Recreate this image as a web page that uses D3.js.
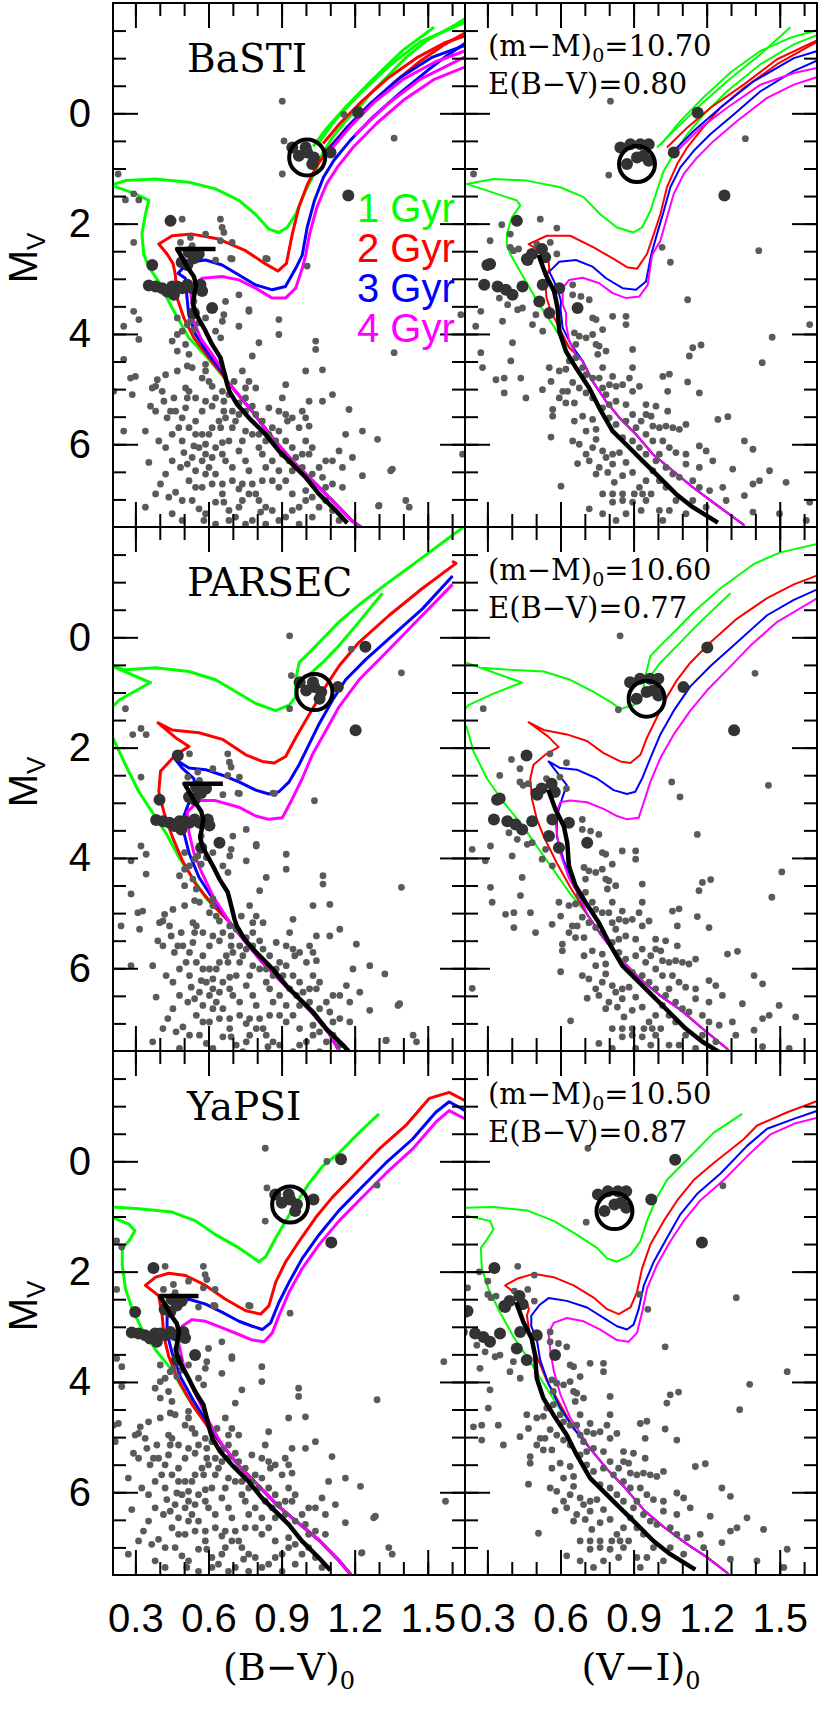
<!DOCTYPE html>
<html><head><meta charset="utf-8">
<script src="https://cdn.jsdelivr.net/npm/d3@7"></script>
<style>html,body{margin:0;padding:0;background:#fff;} svg{display:block;}</style>
</head><body>
<svg id="chart" width="830" height="1714"></svg>
<script>
// ---------------- DATA ----------------
const models = ["BaSTI", "PARSEC", "YaPSI"];
const distMod = [10.70, 10.60, 10.50];
const ebv = [0.80, 0.77, 0.87];
const RV = 3.1, kVI = 1.32; // A_V/E(B-V), E(V-I)/E(B-V)
const ageLabels = ["1 Gyr", "2 Gyr", "3 Gyr", "4 Gyr"];
const ageColors = ["#00ff00", "#ff0000", "#0000ff", "#ff00ff"];
const xTickLabels = [0.3, 0.6, 0.9, 1.2, 1.5];
const yTickLabels = [0, 2, 4, 6];
const colTitles = ["B−V", "V−I"];

// observed stars (dereddened with row-1 values): [colour, M_V]
const starsBV = [
[0.293,3.59],[0.252,3.86],[0.314,3.74],[0.314,4.10],[0.252,4.46],[0.28,4.80],[0.30,4.77],[0.211,5.04],[0.287,5.10],[0.252,5.76],
[0.472,3.71],[0.513,3.83],[0.506,4.19],[0.472,4.31],[0.52,4.37],[0.513,4.58],[0.533,4.61],[0.472,4.67],[0.424,4.74],[0.39,4.83],
[0.383,4.95],[0.41,5.04],[0.369,4.98],[0.417,5.22],[0.362,5.31],[0.458,5.16],[0.465,5.40],[0.444,5.40],[0.43,5.52],[0.492,5.52],
[0.506,4.98],[0.52,5.04],[0.513,5.16],[0.547,5.16],[0.588,4.67],[0.574,4.80],[0.602,4.86],[0.588,4.55],[0.615,4.95],[0.629,5.16],
[0.615,5.31],[0.663,5.22],[0.663,5.40],[0.643,5.58],[0.65,5.70],[0.615,5.70],[0.602,5.82],[0.574,5.82],[0.547,5.82],[0.54,6.03],
[0.492,5.94],[0.499,6.15],[0.533,6.24],[0.513,6.36],[0.485,6.42],[0.424,6.06],[0.355,6.33],[0.403,6.72],[0.465,6.87],[0.547,6.78],
[0.574,6.78],[0.533,7.02],[0.561,7.17],[0.581,7.38],[0.588,7.26],[0.629,7.05],[0.663,7.05],[0.684,7.20],[0.711,7.32],[0.725,7.14],
[0.752,7.45],[0.78,7.38],[0.814,7.23],[0.835,7.45],[0.725,6.81],[0.698,6.42],[0.67,6.30],[0.657,6.18],[0.615,6.24],[0.629,6.06],
[0.657,5.97],[0.684,5.94],[0.698,5.70],[0.711,5.58],[0.725,5.46],[0.752,5.40],[0.78,5.31],[0.766,4.86],[0.794,4.98],[0.752,4.98],
[0.739,4.67],[0.629,3.95],[0.65,4.07],[0.657,3.77],[0.725,3.86],[0.78,4.40],[0.807,4.16],[0.889,4.01],[0.889,3.74],[0.766,3.56],
[0.663,3.65],[0.848,5.34],[0.889,5.40],[0.917,5.46],[0.944,5.52],[0.924,5.58],[0.985,5.40],[0.999,5.52],[1.013,5.67],[0.972,5.70],
[0.999,5.94],[0.985,6.18],[0.958,6.24],[1.026,6.06],[1.081,6.30],[1.109,6.30],[1.136,6.12],[1.163,5.82],[1.177,5.37],[1.191,6.24],
[1.15,6.42],[1.15,6.78],[1.109,6.72],[1.068,6.60],[1.081,6.78],[1.026,6.54],[0.944,6.48],[0.917,6.66],[0.999,6.84],[1.026,6.96],
[0.999,7.02],[0.972,7.14],[0.944,7.20],[0.917,7.32],[0.862,7.20],[0.835,7.14],[0.794,6.90],[0.78,6.72],[0.766,6.90],[0.739,6.72],
[0.698,6.66],[0.657,6.72],[0.629,6.54],[0.602,6.42],[0.574,6.30],[0.835,6.42],[0.862,6.30],[0.821,6.18],[0.807,6.06],[0.835,5.94],
[0.807,5.82],[0.78,5.82],[0.752,5.76],[0.739,5.94],[0.725,6.12],[0.752,6.30],[0.766,6.48],[0.903,5.16],[0.917,4.92],[0.999,4.67],
[1.068,4.65],[1.04,4.13],[1.04,4.28],[1.013,5.22],[1.068,5.22],[1.109,5.10],[1.232,5.76],[1.294,5.91],[1.348,6.48],[1.355,6.45],
[1.232,6.57],[1.30,7.11],[1.41,7.02],[1.424,7.14],[1.643,6.18],[1.362,4.34],[1.636,3.65],[1.298,7.12],
[0.684,5.10],[0.705,4.86],[0.657,5.04],[0.725,5.25],[0.752,5.16],[0.698,5.40],[0.67,5.52],[0.794,5.46],[0.821,5.58],[0.862,5.70],
[0.889,5.76],[0.848,5.82],[0.876,5.94],[0.917,5.94],[0.944,6.06],[0.903,6.18],[0.931,6.30],[0.985,6.42],[1.013,6.18],[1.054,6.42],
[0.889,6.48],[0.862,6.66],[0.821,6.66],[0.889,6.78],[0.944,6.90],[1.054,7.14],[1.081,7.02],[1.109,7.20],[1.136,7.38],[1.026,7.32],
[0.972,7.45],[0.889,7.38],[0.807,7.02],[0.739,7.02],[0.657,6.90],[0.615,6.72],[0.588,6.54],[0.547,6.48],[0.588,6.18],[0.561,6.06],
[0.588,6.00],[0.52,5.70],[0.547,5.58],[0.574,5.40],[0.588,5.22],[0.506,5.34],[0.478,5.70],[0.451,5.82],[0.383,5.40],[0.341,5.76],
[0.396,5.94],[0.451,6.30],[0.424,6.54],[0.383,6.90],[0.341,7.14],[0.451,7.26],[0.492,7.38],[0.629,7.45],[0.684,7.38],[0.52,6.66],
[0.492,7.02],[0.437,6.96],
[0.903,-0.22],[1.362,0.45],[0.903,1.10],[0.91,0.50],[0.229,1.10],[0.259,1.57],[0.314,1.57],[0.293,1.46],[0.492,1.92],[0.649,1.92],
[0.656,2.07],[0.663,2.16],[0.649,2.31],[0.588,2.19],[0.526,2.25],[0.293,2.34],[0.485,2.34],[0.533,2.40],[0.697,2.34],[0.841,2.64],
[0.697,2.64],[1.005,2.77],[1.156,0.02],[0.629,2.66],[0.691,2.63],[0.835,2.63],[0.725,3.29],[0.67,3.41],[0.766,3.59],[0.54,3.41],
[0.526,3.77],[0.492,3.95],[0.472,4.01],[0.451,4.13],[0.54,3.92],[0.561,3.80],[0.588,3.71]
];
const bigStarsBV = [
[0.444,1.95],[0.369,2.75],[0.355,3.12],[0.383,3.14],[0.41,3.17],[0.43,3.23],[0.458,3.29],[0.451,3.14],[0.492,3.17],[0.513,3.11],
[0.533,3.17],[0.567,3.11],[0.574,3.22],[0.513,2.75],[0.54,2.63],[0.615,3.53],[0.54,3.62],[0.472,3.14],[0.519,2.52],[0.56,2.55],
[0.49,2.70],
[0.944,0.62],[0.999,0.62],[1.033,0.80],[1.005,0.71],[0.971,0.77],[1.026,0.92],[1.101,0.71],[1.214,-0.02],[1.174,1.49]
];
const starsVI = [
[0.198,3.65],[0.273,3.59],[0.252,3.86],[0.362,3.77],[0.403,4.16],[0.273,4.34],[0.28,4.61],[0.335,4.83],[0.369,4.80],[0.396,4.49],
[0.437,4.80],[0.369,5.07],[0.458,5.16],[0.526,5.01],[0.561,4.86],[0.554,4.61],[0.595,4.67],[0.622,4.64],[0.629,5.04],[0.609,5.04],
[0.595,5.16],[0.622,5.25],[0.657,5.25],[0.568,5.37],[0.568,5.49],[0.657,5.58],[0.691,5.49],[0.732,5.55],[0.705,5.76],[0.746,5.73],
[0.746,5.91],[0.561,5.87],[0.67,6.35],[0.718,6.30],[0.759,6.42],[0.746,6.54],[0.794,6.51],[0.814,6.36],[0.787,6.24],[0.814,6.18],
[0.842,6.15],[0.869,6.33],[0.896,6.51],[0.821,6.69],[0.855,6.57],[0.773,6.90],[0.814,6.90],[0.855,6.90],[0.903,6.90],[0.937,6.90],
[0.972,6.90],[0.814,7.05],[0.855,7.02],[0.896,7.05],[0.931,7.20],[1.006,7.20],[1.047,7.20],[0.718,7.17],[0.773,7.26],[0.828,7.38],
[0.869,7.26],[1.020,7.38],[0.602,6.76],[0.65,4.88],[0.677,4.98],[0.705,5.07],[0.732,5.16],[0.773,4.98],[0.801,4.92],
[0.828,4.95],[0.855,4.92],[0.896,5.04],[0.924,4.95],[0.883,4.80],[0.814,4.77],[0.773,4.61],[0.753,4.37],[0.759,4.22],[0.787,4.31],
[0.773,3.92],[0.746,3.74],[0.732,4.01],[0.705,4.07],[0.677,4.04],[0.663,4.19],[0.657,3.98],[0.732,3.71],[0.684,3.32],[0.718,3.38],
[0.65,3.29],[0.814,3.68],[0.869,3.68],[0.869,3.83],[0.896,4.28],[0.896,4.61],[0.951,5.28],[0.951,5.46],[0.972,5.49],[0.931,5.58],
[0.979,5.67],[1.006,5.70],[1.033,5.67],[1.061,5.70],[1.088,5.73],[1.115,5.64],[0.992,5.31],[1.040,5.40],[1.020,5.94],[1.047,6.06],
[1.006,6.18],[1.074,6.15],[1.115,6.18],[1.115,6.36],[1.170,6.03],[1.198,6.12],[1.225,6.30],[1.170,6.42],[1.088,6.60],[1.143,6.66],
[1.170,6.78],[1.212,6.84],[1.266,6.78],[1.280,7.02],[1.198,7.14],[1.115,7.26],[1.355,5.94],[1.390,6.09],[1.307,6.45],[1.390,6.72],
[1.417,6.66],[1.458,6.48],[1.526,6.69],[1.355,6.93],[1.390,7.23],[1.499,7.26],[1.623,7.05],[1.609,7.38],[1.246,5.55],[1.287,5.50],
[1.122,4.87],[1.170,5.07],[1.040,5.04],[1.047,4.73],[1.020,4.77],[1.143,4.25],[1.177,4.20],[1.129,4.40],[1.122,3.38],[1.428,4.52],
[1.469,4.06],[1.623,3.83],[0.198,6.17],[0.527,3.95],[0.485,3.83],[0.444,3.53],[0.499,3.65],[0.424,3.56],[0.383,3.47],[0.349,3.35],
[0.65,3.11],[0.746,4.19],
[0.636,4.49],[0.663,4.43],[0.691,4.61],[0.705,4.74],[0.732,4.80],[0.759,4.80],[0.787,5.10],[0.8,5.28],[0.828,5.22],[0.869,5.28],
[0.773,5.34],[0.8,5.52],[0.828,5.64],[0.869,5.58],[0.896,5.46],[0.91,5.70],[0.951,5.82],[0.979,5.94],[0.896,5.94],[0.855,5.88],
[0.924,6.06],[0.951,6.18],[0.992,6.30],[1.033,6.42],[1.061,6.54],[1.006,6.66],[0.979,6.48],[0.951,6.66],[0.924,6.78],[1.033,6.78],
[1.074,7.02],[1.143,7.02],[0.951,7.02],[0.773,6.12],[0.732,6.06],[0.705,6.18],[0.677,6.00],[0.65,5.94],
[0.805,-0.22],[0.243,1.10],[0.798,1.12],[1.359,0.46],[0.517,1.92],[0.585,2.08],[0.359,2.02],[0.394,2.19],[0.311,2.31],[0.394,2.43],
[0.428,2.46],[0.558,2.34],[0.585,2.55],[0.503,2.37],[1.017,2.43],[1.414,2.49],[0.407,2.49],[1.051,2.70]
];
const bigStarsVI = [
[0.3,2.75],[0.287,3.11],[0.342,3.14],[0.376,3.20],[0.403,3.29],[0.444,3.14],[0.513,3.41],[0.554,3.62],[0.527,3.11],[0.595,3.17],
[0.67,3.53],[0.465,2.66],[0.421,1.95],[0.311,2.73],[0.483,2.55],[0.524,2.46],[0.537,2.61],[0.462,2.64],
[0.846,0.62],[0.887,0.56],[0.928,0.56],[0.962,0.56],[0.873,0.92],[0.914,0.80],[0.941,0.77],[0.962,0.86],[1.065,0.71],[1.163,-0.01],[1.273,1.49]
];
// fiducial ridge lines (row-1 frame)
const ridgeBV = [[0.629,2.46],[0.471,2.46],[0.49,2.6],[0.512,2.78],[0.54,2.96],[0.549,3.11],[0.536,3.44],[0.547,3.62],[0.588,3.95],[0.615,4.19],[0.649,4.43],[0.663,4.67],[0.677,4.92],[0.686,5.04],[0.718,5.28],[0.766,5.52],[0.834,5.82],[0.889,6.12],[0.944,6.36],[0.999,6.60],[1.053,6.90],[1.122,7.20],[1.17,7.43]];
const ridgeVI = [[0.51,2.57],[0.54,2.93],[0.574,3.23],[0.588,3.53],[0.595,3.95],[0.622,4.31],[0.663,4.61],[0.718,4.98],[0.759,5.34],[0.814,5.76],[0.869,6.00],[0.937,6.30],[1.006,6.60],[1.074,6.90],[1.143,7.14],[1.246,7.42]];
const clumpBV = [1.005, 0.80];
const clumpVI = [0.914, 0.92];

// ---- isochrones: lower main sequence shared, then per-age tails (+ extra branches) ----
const bastiBV_ms = [[1.24,7.6],[1.225,7.5],[1.19,7.39],[1.108,7.02],[1.026,6.66],[0.944,6.30],[0.862,5.88],[0.779,5.40],[0.677,4.86]];
const bastiBV_ages = [
 [[[0.60,4.45],[0.519,4.07],[0.451,3.53],[0.396,3.05],[0.355,2.79],[0.334,2.55],[0.327,2.19],[0.341,1.83],[0.355,1.58],[0.30,1.46],[0.20,1.30],[0.259,1.22],[0.382,1.19],[0.519,1.25],[0.629,1.37],[0.725,1.58],[0.793,1.83],[0.848,2.10],[0.889,2.16],[0.923,2.07],[0.958,1.83],[0.999,1.40],[1.04,1.04],[1.067,0.74],[1.108,0.44],[1.163,0.14],[1.218,-0.10],[1.273,-0.40],[1.341,-0.70],[1.41,-1.01],[1.492,-1.31],[1.615,-1.61],[1.67,-1.76]],
  [[1.05,0.55],[1.12,0.12],[1.22,-0.35],[1.34,-0.85],[1.47,-1.30],[1.67,-1.68]],
  [[1.03,0.60],[1.08,0.30],[1.16,-0.10],[1.27,-0.60],[1.40,-1.15],[1.526,-1.56]]],
 [[[0.656,4.73],[0.601,4.43],[0.54,4.07],[0.499,3.71],[0.471,3.35],[0.464,2.93],[0.455,2.73],[0.43,2.55],[0.396,2.37],[0.451,2.22],[0.533,2.19],[0.642,2.28],[0.752,2.49],[0.834,2.73],[0.885,2.86],[0.92,2.72],[0.944,2.19],[0.971,1.70],[1.005,1.30],[1.045,0.95],[1.10,0.60],[1.17,0.25],[1.26,-0.15],[1.36,-0.55],[1.47,-0.95],[1.57,-1.25],[1.67,-1.50]],
  [[1.07,0.55],[1.14,0.18],[1.23,-0.22],[1.34,-0.65],[1.46,-1.02],[1.57,-1.28],[1.67,-1.43]]],
 [[[0.663,4.73],[0.601,4.37],[0.547,4.01],[0.519,3.65],[0.512,3.35],[0.505,2.99],[0.475,2.90],[0.50,2.78],[0.533,2.69],[0.588,2.66],[0.656,2.75],[0.725,2.93],[0.793,3.11],[0.862,3.20],[0.916,3.14],[0.958,2.81],[0.985,2.57],[1.005,2.07],[1.035,1.58],[1.072,1.16],[1.115,0.85],[1.182,0.49],[1.277,0.06],[1.387,-0.37],[1.50,-0.78],[1.58,-1.05],[1.67,-1.32]],
  [[1.10,0.62],[1.17,0.25],[1.27,-0.20],[1.39,-0.66],[1.52,-1.02],[1.67,-1.26]]],
 [[[0.67,4.73],[0.615,4.37],[0.567,4.07],[0.54,3.77],[0.533,3.47],[0.526,3.17],[0.574,2.99],[0.656,2.96],[0.725,3.02],[0.793,3.17],[0.862,3.35],[0.916,3.35],[0.958,3.17],[0.985,2.81],[0.999,2.57],[1.015,2.19],[1.045,1.70],[1.085,1.28],[1.13,0.97],[1.195,0.61],[1.291,0.18],[1.401,-0.24],[1.524,-0.61],[1.67,-0.87]],
  [[1.11,0.62],[1.18,0.25],[1.28,-0.20],[1.40,-0.62],[1.53,-0.93],[1.67,-1.16]],
  [[1.20,0.40],[1.33,-0.15],[1.47,-0.62],[1.67,-1.06]]]
];
const bastiVI_ms = [[1.37,7.6],[1.349,7.45],[1.253,7.14],[1.143,6.78],[1.061,6.48],[0.979,6.18],[0.91,5.82],[0.842,5.52],[0.787,5.22],[0.732,4.86],[0.691,4.49]];
const bastiVI_ages = [
 [[[0.65,4.30],[0.609,4.13],[0.568,3.83],[0.513,3.47],[0.458,3.05],[0.396,2.57],[0.38,2.40],[0.38,2.19],[0.40,1.89],[0.435,1.67],[0.421,1.58],[0.339,1.46],[0.215,1.28],[0.325,1.19],[0.462,1.22],[0.599,1.34],[0.695,1.52],[0.763,1.83],[0.832,2.07],[0.90,2.16],[0.935,2.07],[0.969,1.77],[0.996,1.40],[1.024,1.04],[1.065,0.74],[1.12,0.38],[1.188,0.02],[1.284,-0.40],[1.421,-0.89],[1.558,-1.25],[1.67,-1.45]],
  [[0.996,0.62],[1.079,0.26],[1.176,-0.16],[1.284,-0.58],[1.421,-1.07],[1.544,-1.56]],
  [[1.01,0.58],[1.09,0.15],[1.19,-0.30],[1.30,-0.75],[1.42,-1.13],[1.55,-1.38],[1.67,-1.53]]],
 [[[0.636,4.25],[0.595,3.89],[0.561,3.59],[0.543,3.35],[0.537,3.05],[0.554,2.81],[0.55,2.65],[0.52,2.50],[0.469,2.37],[0.544,2.22],[0.64,2.22],[0.736,2.43],[0.818,2.64],[0.873,2.79],[0.914,2.82],[0.955,2.55],[0.983,2.19],[1.01,1.83],[1.037,1.34],[1.079,0.92],[1.12,0.62],[1.174,0.32],[1.256,-0.10],[1.352,-0.46],[1.489,-0.89],[1.67,-1.34]],
  [[1.037,0.62],[1.12,0.26],[1.216,-0.10],[1.352,-0.52],[1.489,-0.98],[1.67,-1.36]]],
 [[[0.643,4.19],[0.609,3.89],[0.60,3.55],[0.602,3.41],[0.595,3.29],[0.574,3.05],[0.554,2.87],[0.595,2.69],[0.663,2.66],[0.732,2.78],[0.787,2.99],[0.855,3.17],[0.91,3.20],[0.951,3.05],[0.972,2.57],[0.996,2.19],[1.024,1.77],[1.051,1.34],[1.092,0.98],[1.147,0.68],[1.215,0.38],[1.311,0.02],[1.421,-0.40],[1.558,-0.77],[1.67,-0.99]],
  [[1.065,0.68],[1.147,0.32],[1.256,-0.10],[1.393,-0.58],[1.558,-1.0],[1.67,-1.15]]],
 [[[0.663,4.37],[0.636,4.13],[0.623,3.83],[0.623,3.62],[0.609,3.47],[0.609,3.17],[0.636,3.02],[0.691,2.98],[0.759,3.08],[0.814,3.26],[0.869,3.35],[0.924,3.32],[0.958,3.11],[0.976,2.57],[1.01,2.31],[1.037,1.89],[1.065,1.46],[1.106,1.10],[1.161,0.80],[1.229,0.50],[1.325,0.14],[1.448,-0.28],[1.558,-0.52],[1.67,-0.68]],
  [[1.079,0.68],[1.176,0.26],[1.284,-0.10],[1.421,-0.52],[1.558,-0.73],[1.67,-0.84]]]
];
const parsecBV_ms = [[1.16,7.6],[1.136,7.49],[1.095,7.18],[1.026,6.81],[0.958,6.50],[0.889,6.20],[0.821,5.89],[0.752,5.52],[0.684,5.15]];
const parsecBV_ages = [
 [[[0.64,4.95],[0.588,4.72],[0.533,4.35],[0.478,3.98],[0.424,3.54],[0.369,3.17],[0.314,2.80],[0.259,2.31],[0.207,1.82],[0.17,1.55],[0.207,1.26],[0.232,1.14],[0.362,0.82],[0.19,0.50],[0.259,0.59],[0.383,0.55],[0.52,0.62],[0.629,0.77],[0.725,1.02],[0.794,1.20],[0.876,1.33],[0.931,1.23],[0.958,1.08],[0.958,0.77],[0.972,0.46],[1.013,0.28],[1.068,0.03],[1.136,-0.28],[1.218,-0.59],[1.328,-0.96],[1.479,-1.45],[1.629,-1.94],[1.66,-2.05]],
  [[1.006,0.71],[1.068,0.46],[1.136,0.15],[1.218,-0.28],[1.314,-0.80]]],
 [[[0.615,4.84],[0.547,4.47],[0.492,4.04],[0.451,3.61],[0.417,3.17],[0.396,2.80],[0.403,2.43],[0.465,2.13],[0.52,1.98],[0.465,1.82],[0.393,1.55],[0.451,1.68],[0.561,1.73],[0.657,1.85],[0.753,2.13],[0.821,2.25],[0.869,2.28],[0.917,2.16],[0.958,1.82],[0.999,1.51],[1.040,1.20],[1.081,0.89],[1.136,0.52],[1.218,0.09],[1.342,-0.40],[1.479,-0.89],[1.616,-1.34],[1.60,-1.38]]],
 [[[0.615,4.72],[0.561,4.35],[0.52,3.91],[0.499,3.54],[0.499,3.24],[0.52,2.99],[0.547,2.80],[0.54,2.56],[0.492,2.37],[0.465,2.22],[0.52,2.37],[0.588,2.40],[0.657,2.50],[0.725,2.62],[0.794,2.77],[0.848,2.84],[0.889,2.80],[0.931,2.62],[0.972,2.31],[1.013,1.94],[1.054,1.57],[1.109,1.14],[1.163,0.77],[1.246,0.40],[1.355,-0.03],[1.479,-0.52],[1.602,-1.11]]],
 [[[0.622,4.72],[0.574,4.28],[0.54,3.91],[0.52,3.54],[0.512,3.17],[0.561,2.96],[0.629,2.96],[0.725,3.08],[0.794,3.24],[0.848,3.30],[0.903,3.27],[0.944,2.93],[0.985,2.56],[1.026,2.13],[1.081,1.70],[1.136,1.26],[1.218,0.77],[1.328,0.28],[1.465,-0.34],[1.602,-0.96]]]
];
const parsecVI_ms = [[1.30,7.6],[1.284,7.46],[1.174,7.06],[1.092,6.75],[1.01,6.50],[0.928,6.20],[0.846,5.83],[0.777,5.46],[0.709,5.02]];
const parsecVI_ages = [
 [[[0.64,4.65],[0.572,4.22],[0.503,3.79],[0.435,3.36],[0.366,2.99],[0.298,2.56],[0.243,2.07],[0.215,1.63],[0.18,1.45],[0.222,1.23],[0.325,1.02],[0.441,0.82],[0.20,0.44],[0.27,0.55],[0.394,0.59],[0.531,0.62],[0.64,0.77],[0.736,0.99],[0.805,1.17],[0.846,1.30],[0.90,1.23],[0.935,1.08],[0.948,0.71],[0.969,0.34],[1.01,0.15],[1.079,-0.15],[1.147,-0.46],[1.257,-0.89],[1.394,-1.33],[1.503,-1.54],[1.67,-1.71]],
  [[0.97,0.70],[1.01,0.46],[1.079,0.15],[1.174,-0.28],[1.298,-0.80]]],
 [[[0.64,4.53],[0.586,4.10],[0.531,3.61],[0.503,3.30],[0.483,2.93],[0.476,2.56],[0.489,2.31],[0.54,2.12],[0.592,1.99],[0.55,1.80],[0.469,1.54],[0.531,1.68],[0.626,1.76],[0.709,1.88],[0.777,2.10],[0.846,2.25],[0.887,2.28],[0.928,2.13],[0.955,1.82],[0.996,1.45],[1.037,1.08],[1.079,0.77],[1.133,0.46],[1.216,0.09],[1.325,-0.34],[1.448,-0.71],[1.558,-0.96],[1.67,-1.15]]],
 [[[0.654,4.47],[0.613,4.04],[0.585,3.61],[0.585,3.24],[0.606,2.93],[0.626,2.68],[0.551,2.25],[0.599,2.37],[0.667,2.40],[0.75,2.56],[0.818,2.77],[0.873,2.84],[0.907,2.80],[0.935,2.56],[0.969,2.19],[1.01,1.76],[1.065,1.33],[1.133,0.89],[1.216,0.52],[1.325,0.09],[1.448,-0.40],[1.558,-0.68],[1.67,-0.90]]],
 [[[0.681,4.72],[0.633,4.35],[0.599,3.91],[0.585,3.55],[0.578,3.24],[0.599,2.99],[0.64,2.96],[0.709,2.99],[0.777,3.11],[0.832,3.24],[0.873,3.30],[0.921,3.27],[0.942,2.99],[0.969,2.62],[1.01,2.19],[1.065,1.76],[1.133,1.33],[1.202,0.96],[1.284,0.59],[1.38,0.15],[1.49,-0.28],[1.67,-0.75]]]
];
const yapsiBV_ms = [[1.20,7.6],[1.184,7.49],[1.136,7.24],[1.054,6.87],[0.972,6.57],[0.889,6.26],[0.807,5.89],[0.725,5.52],[0.657,5.15]];
const yapsiBV_ages = [
 [[[0.574,4.65],[0.506,4.22],[0.451,3.79],[0.383,3.42],[0.328,3.05],[0.287,2.68],[0.259,2.31],[0.246,1.88],[0.246,1.57],[0.273,1.45],[0.298,1.26],[0.273,1.14],[0.207,1.02],[0.17,0.95],[0.207,0.83],[0.314,0.86],[0.451,0.92],[0.547,1.08],[0.629,1.33],[0.725,1.57],[0.807,1.82],[0.835,1.73],[0.876,1.39],[0.917,1.08],[0.958,0.77],[1.013,0.40],[1.068,0.09],[1.136,-0.15],[1.218,-0.52],[1.30,-0.86]]],
 [[[0.602,4.84],[0.533,4.41],[0.478,3.98],[0.437,3.54],[0.417,3.17],[0.41,2.80],[0.396,2.44],[0.341,2.25],[0.383,2.10],[0.437,2.03],[0.506,2.07],[0.588,2.25],[0.67,2.50],[0.753,2.71],[0.814,2.77],[0.848,2.62],[0.876,2.19],[0.917,1.82],[0.972,1.45],[1.040,1.02],[1.109,0.65],[1.191,0.28],[1.30,-0.22],[1.41,-0.65],[1.506,-1.14],[1.588,-1.25],[1.67,-1.06]]],
 [[[0.602,4.78],[0.54,4.35],[0.485,3.91],[0.451,3.48],[0.43,3.11],[0.43,2.80],[0.465,2.59],[0.52,2.50],[0.588,2.59],[0.657,2.74],[0.725,2.90],[0.78,2.99],[0.821,3.05],[0.855,2.93],[0.889,2.56],[0.931,2.19],[0.985,1.76],[1.054,1.33],[1.136,0.89],[1.218,0.52],[1.328,0.03],[1.437,-0.40],[1.533,-0.89],[1.588,-1.08],[1.67,-0.88]]],
 [[[0.602,4.72],[0.547,4.22],[0.499,3.73],[0.478,3.30],[0.492,2.99],[0.533,2.87],[0.588,2.90],[0.657,3.02],[0.725,3.14],[0.78,3.24],[0.828,3.27],[0.862,3.11],[0.889,2.80],[0.931,2.37],[0.985,1.94],[1.054,1.51],[1.136,1.08],[1.218,0.71],[1.328,0.22],[1.437,-0.22],[1.533,-0.71],[1.588,-0.92],[1.67,-0.73]]]
];
const yapsiVI_ms = [[1.30,7.6],[1.284,7.46],[1.202,7.18],[1.12,6.94],[1.024,6.63],[0.942,6.32],[0.859,5.89],[0.791,5.58],[0.722,5.21]];
const yapsiVI_ages = [
 [[[0.654,4.84],[0.585,4.41],[0.524,3.98],[0.462,3.54],[0.407,3.18],[0.352,2.74],[0.304,2.31],[0.277,1.94],[0.273,1.57],[0.298,1.42],[0.325,1.23],[0.311,1.08],[0.215,0.99],[0.18,0.92],[0.215,0.84],[0.325,0.83],[0.462,0.89],[0.572,1.08],[0.667,1.33],[0.75,1.57],[0.791,1.76],[0.832,1.82],[0.887,1.70],[0.928,1.45],[0.955,1.08],[0.996,0.65],[1.037,0.34],[1.092,0.09],[1.147,-0.15],[1.229,-0.52],[1.346,-0.86]]],
 [[[0.654,4.84],[0.599,4.41],[0.544,3.98],[0.503,3.54],[0.476,3.18],[0.462,2.80],[0.47,2.68],[0.462,2.56],[0.373,2.25],[0.421,2.13],[0.489,2.04],[0.572,2.10],[0.654,2.25],[0.736,2.47],[0.791,2.68],[0.839,2.77],[0.887,2.65],[0.914,2.37],[0.935,1.94],[0.969,1.51],[1.024,1.08],[1.079,0.71],[1.147,0.34],[1.229,0.03],[1.352,-0.40],[1.407,-0.65],[1.531,-0.89],[1.67,-1.12]]],
 [[[0.654,4.84],[0.599,4.47],[0.551,4.04],[0.517,3.61],[0.503,3.24],[0.48,2.99],[0.48,2.80],[0.515,2.60],[0.551,2.48],[0.626,2.53],[0.709,2.65],[0.777,2.84],[0.832,2.99],[0.873,3.05],[0.90,2.96],[0.921,2.68],[0.942,2.25],[0.983,1.82],[1.037,1.39],[1.092,0.96],[1.161,0.59],[1.257,0.22],[1.366,-0.28],[1.448,-0.59],[1.558,-0.77],[1.67,-0.94]]],
 [[[0.695,5.02],[0.64,4.65],[0.599,4.22],[0.572,3.79],[0.558,3.42],[0.551,3.11],[0.572,2.93],[0.626,2.84],[0.695,2.90],[0.763,3.05],[0.832,3.24],[0.88,3.27],[0.914,3.11],[0.935,2.74],[0.955,2.31],[0.996,1.88],[1.051,1.45],[1.106,1.08],[1.174,0.71],[1.27,0.34],[1.366,-0.09],[1.462,-0.49],[1.558,-0.68],[1.67,-0.81]]]
];

// ---------------- CHART ----------------
function buildIso(ms, ages) { return ages.map(segs => segs.map((s, i) => i === 0 ? ms.concat(s) : s)); }
const isochrones = [
  [buildIso(bastiBV_ms, bastiBV_ages), buildIso(bastiVI_ms, bastiVI_ages)],
  [buildIso(parsecBV_ms, parsecBV_ages), buildIso(parsecVI_ms, parsecVI_ages)],
  [buildIso(yapsiBV_ms, yapsiBV_ages), buildIso(yapsiVI_ms, yapsiVI_ages)]
];

const svg = d3.select("#chart");
svg.append("rect").attr("width", 830).attr("height", 1714).attr("fill", "#fff");
const colX = [113, 465, 817];
const rowTop = 3, rowH = 524;
const xDomain = [0.208, 1.653], yDomain = [-2, 7.5];
const sansFont = "'Liberation Sans', Arial, Helvetica, sans-serif";
const serifFont = "'DejaVu Serif', serif";

const minorX = d3.range(3, 17).map(v => v / 10);
const minorY = d3.range(-3, 15).map(v => v / 2);

function tickSet(g, x, y, left, right, top, bottom, vx, vy, size) {
  const add = (axis, tr) => {
    const a = g.append("g").attr("transform", tr).call(axis.tickSize(-size).tickFormat(""));
    a.select(".domain").remove();
    a.selectAll("line").attr("stroke", "#000").attr("stroke-width", 2);
  };
  add(d3.axisBottom(x).tickValues(vx), `translate(0,${bottom})`);
  add(d3.axisTop(x).tickValues(vx), `translate(0,${top})`);
  add(d3.axisLeft(y).tickValues(vy), `translate(${left},0)`);
  add(d3.axisRight(y).tickValues(vy), `translate(${right},0)`);
}

for (let r = 0; r < 3; r++) {
  for (let c = 0; c < 2; c++) {
    const left = colX[c], right = colX[c + 1];
    const top = rowTop + r * rowH, bottom = top + rowH;
    const x = d3.scaleLinear().domain(xDomain).range([left, right]);
    const y = d3.scaleLinear().domain(yDomain).range([top, bottom]);
    const dE = ebv[0] - ebv[r];
    const dCol = c === 0 ? dE : kVI * dE;
    const dMag = (distMod[0] - distMod[r]) + RV * dE;
    const shift = d => [d[0] + dCol, d[1] + dMag];

    const clipId = `clip-${r}-${c}`;
    svg.append("clipPath").attr("id", clipId).append("rect")
      .attr("x", left).attr("y", top).attr("width", right - left).attr("height", rowH);
    const g = svg.append("g").attr("clip-path", `url(#${clipId})`);
    const line = d3.line().x(d => x(d[0])).y(d => y(d[1]));

    // isochrones
    isochrones[r][c].forEach((segs, ai) => {
      segs.forEach(s => {
        g.append("path").attr("d", line(s)).attr("fill", "none")
          .attr("stroke", ageColors[ai]).attr("stroke-width", c === 0 ? 3 : 2)
          .attr("stroke-linejoin", "round");
      });
    });
    // stars
    const small = (c === 0 ? starsBV : starsVI).map(shift);
    const big = (c === 0 ? bigStarsBV : bigStarsVI).map(shift);
    g.selectAll(null).data(small).enter().append("circle")
      .attr("cx", d => x(d[0])).attr("cy", d => y(d[1])).attr("r", 3.4).attr("fill", "#5a5a5a");
    g.selectAll(null).data(big).enter().append("circle")
      .attr("cx", d => x(d[0])).attr("cy", d => y(d[1])).attr("r", 6).attr("fill", "#333");
    // ridge line
    g.append("path").attr("d", line((c === 0 ? ridgeBV : ridgeVI).map(shift)))
      .attr("fill", "none").attr("stroke", "#000").attr("stroke-width", 4.5).attr("stroke-linejoin", "round");
    // red clump circle
    const cl = shift(c === 0 ? clumpBV : clumpVI);
    g.append("circle").attr("cx", x(cl[0])).attr("cy", y(cl[1])).attr("r", 18)
      .attr("fill", "none").attr("stroke", "#000").attr("stroke-width", 4);

    // frame + ticks
    svg.append("rect").attr("x", left).attr("y", top).attr("width", right - left).attr("height", rowH)
      .attr("fill", "none").attr("stroke", "#000").attr("stroke-width", 2);
    const fg = svg.append("g");
    tickSet(fg, x, y, left, right, top, bottom, minorX, minorY, 13);
    tickSet(fg, x, y, left, right, top, bottom, xTickLabels, yTickLabels, 25);

    if (c === 0) {
      const ya = svg.append("g").attr("transform", `translate(${left},0)`)
        .call(d3.axisLeft(y).tickValues(yTickLabels).tickSize(0).tickPadding(22).tickFormat(d3.format("d")));
      ya.select(".domain").remove();
      ya.selectAll("text").attr("font-size", 40).attr("font-family", sansFont).attr("fill", "#000");
      const t = svg.append("text").attr("transform", `translate(37,${top + 255}) rotate(-90)`)
        .attr("text-anchor", "middle").attr("font-family", sansFont).attr("font-size", 40).attr("fill", "#000");
      t.append("tspan").text("M");
      t.append("tspan").attr("font-size", 26).attr("dy", 8).text("V");
      svg.append("text").attr("x", 187).attr("y", top + 69).attr("font-family", serifFont)
        .attr("font-size", 39).attr("fill", "#000").text(models[r]);
    } else {
      const a1 = svg.append("text").attr("x", 488).attr("y", top + 53).attr("font-family", serifFont)
        .attr("font-size", 29).attr("fill", "#000");
      a1.append("tspan").text("(m−M)");
      a1.append("tspan").attr("font-size", 19).attr("dy", 6).text("0");
      a1.append("tspan").attr("dy", -6).text("=" + distMod[r].toFixed(2));
      svg.append("text").attr("x", 488).attr("y", top + 91).attr("font-family", serifFont)
        .attr("font-size", 29).attr("fill", "#000").text("E(B−V)=" + ebv[r].toFixed(2));
    }
    if (r === 2) {
      const xa = svg.append("g").attr("transform", `translate(0,${bottom})`)
        .call(d3.axisBottom(x).tickValues(xTickLabels).tickSize(0).tickPadding(29).tickFormat(d3.format(".1f")));
      xa.select(".domain").remove();
      xa.selectAll("text").attr("font-size", 40).attr("font-family", sansFont).attr("fill", "#000");
      const tt = svg.append("text").attr("x", (left + right) / 2).attr("y", 1680)
        .attr("text-anchor", "middle").attr("font-family", serifFont).attr("font-size", 38).attr("fill", "#000");
      tt.append("tspan").text("(" + colTitles[c] + ")");
      tt.append("tspan").attr("font-size", 24).attr("dy", 9).text("0");
    }
    if (r === 0 && c === 0) {
      ageLabels.forEach((lab, i) => {
        svg.append("text").attr("x", 357).attr("y", top + 219 + i * 40)
          .attr("font-family", sansFont).attr("font-size", 40).attr("fill", ageColors[i]).text(lab);
      });
    }
  }
}
</script>
</body></html>
